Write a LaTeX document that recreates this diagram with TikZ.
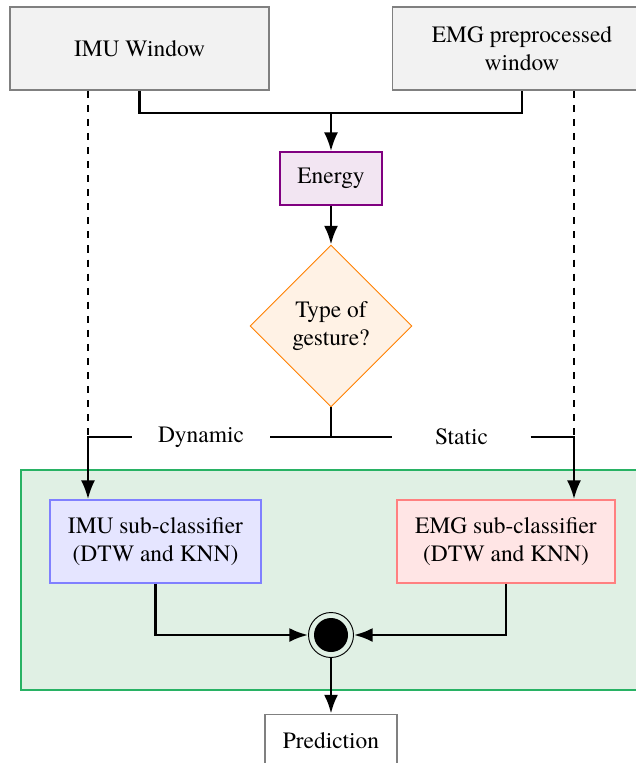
\documentclass[tikz,border=0pt]{standalone}
\usepackage{fontspec}
\setmainfont{texgyretermes}[Extension=.otf,UprightFont=*-regular,BoldFont=*-bold]
\usetikzlibrary{positioning,shapes.geometric,arrows.meta}
\definecolor{grpfill}{RGB}{224,240,228}
\definecolor{grpdraw}{RGB}{40,178,100}

\begin{document}
\begin{tikzpicture}[x=0.015cm,y=-0.015cm,
  box/.style={draw,line width=0.7pt,inner sep=2pt,align=center},
  srcbox/.style={box,draw=gray,fill=gray!10,minimum width=3.885cm,minimum height=1.245cm},
  clfbox/.style={box,minimum height=1.245cm},
  link/.style={line width=1.1pt},
  arr/.style={link,-{Latex[length=8pt,width=6pt]}}]
\clip (0,0) rectangle (636,763);
\fill[white] (0,0) rectangle (636,763);
\draw[line width=0.7pt,draw=grpdraw,fill=grpfill] (21,470) rectangle (660,690);
\node[srcbox] (imuwin) at (139.5,48.5) {IMU Window};
\node[srcbox] (emgwin) at (522,48.5) {EMG preprocessed\\window};
\node[box,draw=violet,fill=violet!10,minimum width=1.53cm,minimum height=0.795cm] (energy) at (331,178.5) {Energy};
\node[diamond,draw=orange,fill=orange!10,line width=0.4pt,align=center,inner sep=1pt,minimum width=2.43cm,minimum height=2.43cm] (gesture) at (331,326) {Type of\\gesture?};
\node[minimum width=2.07cm,inner sep=0pt] (dyn) at (201,437) {Dynamic};
\node[minimum width=2.06cm,inner sep=0pt] (stat) at (461.5,437) {Static};
\coordinate (join) at (331,113);
\coordinate (imutap) at (88,437);
\coordinate (emgtap) at (574,437);
\node[clfbox,draw=blue!50,fill=blue!10,minimum width=3.165cm] (imuclf) at (155.5,541.5) {IMU sub-classifier\\(DTW and KNN)};
\node[clfbox,draw=red!50,fill=red!10,minimum width=3.27cm] (emgclf) at (506,541.5) {EMG sub-classifier\\(DTW and KNN)};
\node[circle,draw,line width=0.4pt,minimum size=0.675cm,inner sep=0pt] (merge) at (331,635) {};
\fill (merge) circle (0.255cm);
\node[box,draw=gray,fill=white,minimum width=1.98cm,minimum height=0.8cm] (pred) at (331,741) {Prediction};

% inputs to energy
\draw[link] (imuwin.south) |- (join) -| (emgwin.south);
\draw[arr] (join) -- (energy);
\draw[arr] (energy) -- (gesture);
% bypass lines
\draw[dashed,line width=0.6pt] (imuwin.south -| imutap) -- (imutap);
\draw[dashed,line width=0.6pt] (emgwin.south -| emgtap) -- (emgtap);
% decision branches
\draw[link] (gesture) -- (gesture |- dyn);
\draw[link] (dyn) -- (stat);
\draw[arr] (dyn) -| (imutap) -- (imutap |- imuclf.north);
\draw[arr] (stat) -| (emgtap) -- (emgtap |- emgclf.north);
% fusion
\draw[arr] (imuclf) |- (merge);
\draw[arr] (emgclf) |- (merge);
\draw[arr] (merge) -- (pred);
\end{tikzpicture}
\end{document}
